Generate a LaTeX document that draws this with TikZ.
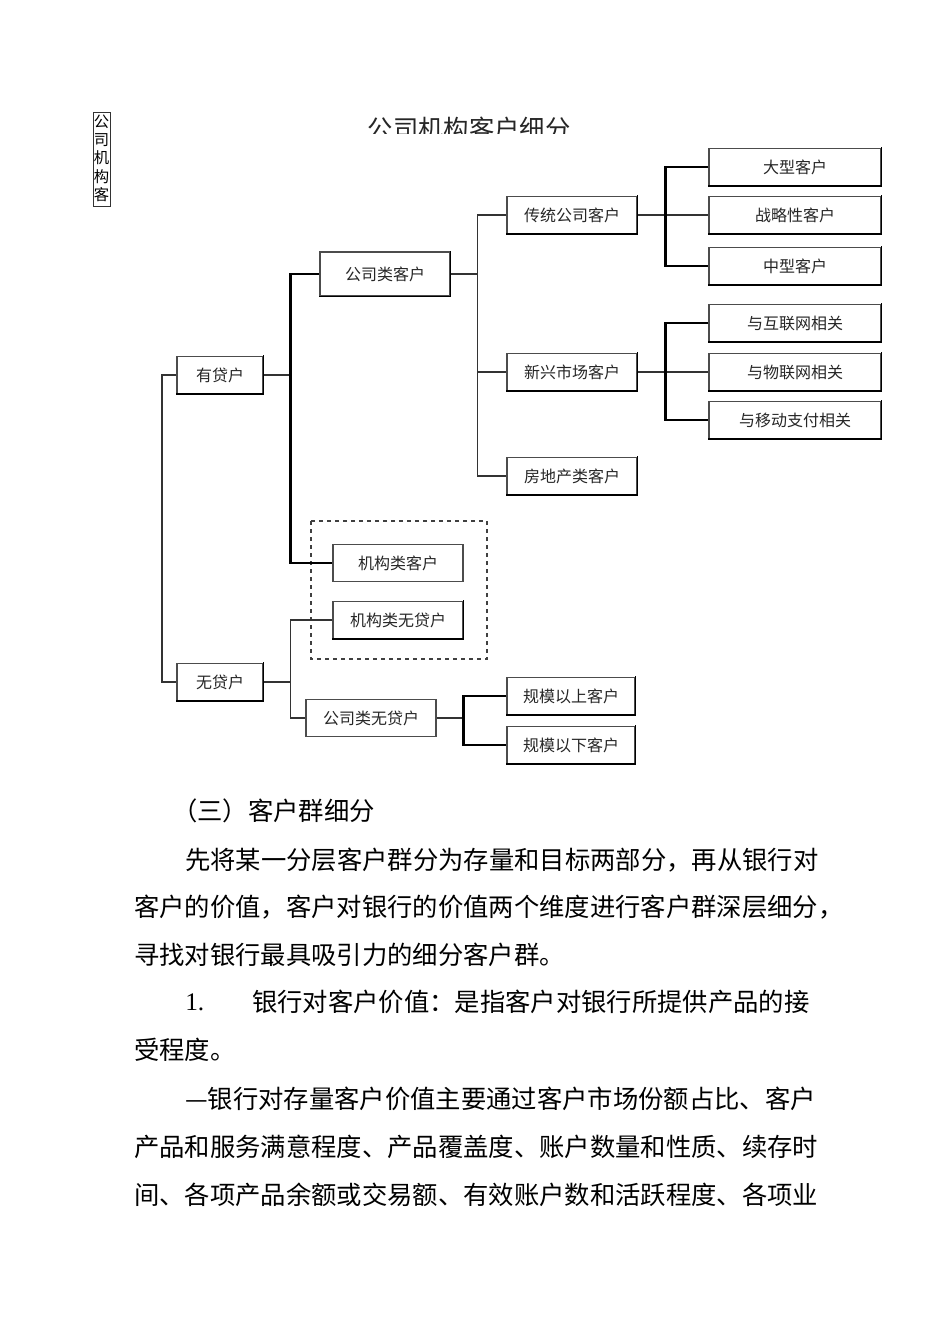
\documentclass[tikz,border=0pt]{standalone}
\usepackage{fontspec}
\newfontfamily\cjk{Noto Sans CJK SC}
\newfontfamily\latinserif{Liberation Serif}
\begin{document}
\begin{tikzpicture}[x=0.75pt,y=-0.75pt,
  box/.style={draw=black!70, line width=0.8pt, inner sep=0pt, minimum height=27.5pt,
    font=\cjk\fontsize{12}{14}\selectfont, text=black!85, fill=white},
  wA/.style={minimum width=64.5pt},
  wB/.style={minimum width=97.5pt},
  wC/.style={minimum width=129pt},
  link/.style={draw=black!80, line width=0.9pt},
  heavy/.style={draw=black, line width=1.6pt},
  shade/.style={draw=black, line width=1.2pt, line cap=rect},
  body/.style={anchor=west, inner sep=0pt, font=\cjk\fontsize{19}{22}\selectfont, text=black},
  vch/.style={inner sep=0pt, font=\cjk\fontsize{11.5}{12}\selectfont}
]
\useasboundingbox (0,0) rectangle (950,1344);

% vertical label
\draw[draw=black!80, line width=0.6pt] (93,112) rectangle (110,206);
\node[vch] (v1) at (101.5,122) {公};
\node[vch] (v2) at (101.5,140) {司};
\node[vch] (v3) at (101.5,158) {机};
\node[vch] (v4) at (101.5,177) {构};
\node[vch] (v5) at (101.5,195) {客};

% clipped title
\begin{scope}
\clip (300,108) rectangle (640,134);
\node[inner sep=0pt, font=\cjk\fontsize{19}{22}\selectfont, text=black!85] (title) at (469,129) {公司机构客户细分};
\end{scope}

% dashed frame
\draw[dashed, draw=black!75, line width=1pt] (311,521) rectangle (487,659);

% nodes
\node[box,wA] (yd) at (220,375) {有贷户};
\node[box,wA] (wd) at (220,682) {无贷户};
\node[box,wB,minimum height=33pt] (gs) at (385,274) {公司类客户};
\node[box,wB] (jg) at (398,563) {机构类客户};
\node[box,wB] (jgw) at (398,620) {机构类无贷户};
\node[box,wB] (gsw) at (371,718) {公司类无贷户};
\node[box,wB] (ct) at (572,215) {传统公司客户};
\node[box,wB] (xx) at (572,372) {新兴市场客户};
\node[box,wB] (fd) at (572,476) {房地产类客户};
\node[box,wC] (dx) at (795,167) {大型客户};
\node[box,wC] (zl) at (795,215) {战略性客户};
\node[box,wC] (zx) at (795,266) {中型客户};
\node[box,wC] (hl) at (795,323) {与互联网相关};
\node[box,wC] (wl) at (795,372) {与物联网相关};
\node[box,wC] (yz) at (795,420) {与移动支付相关};
\node[box,wB,minimum width=96pt] (gy) at (571,696) {规模以上客户};
\node[box,wB,minimum width=96pt] (gx) at (571,745) {规模以下客户};

% shading edges (right and bottom)
\foreach \n in {yd,wd,gs,jgw,ct,xx,fd,dx,zl,zx,hl,wl,yz,gy,gx}
  \draw[shade] (\n.north east) -- (\n.south east) -- (\n.south west);

% junction coordinates
\coordinate (j0) at (162,375);
\coordinate (j1) at (291,375);
\coordinate (j2) at (291,682);
\coordinate (j3) at (478,274);
\coordinate (j4) at (464,718);

% connectors
\draw[link] (yd.west) -- (j0) |- (wd.west);
\draw[link] (yd.east) -- (j1);
\draw[heavy] (gs.west) -- ++(-29,0) |- (jg.west);
\draw[link] (wd.east) -- (j2);
\draw[link] (jgw.west) -- ++(-42,0) |- (gsw.west);
\draw[link] (gs.east) -- (j3);
\draw[link] (ct.west) -- ++(-29,0) |- (fd.west);
\draw[link] (xx.west) -- ++(-29,0);
\draw[link] (ct.east) -- (zl.west);
\draw[heavy] (dx.west) -- ++(-43,0) |- (zx.west);
\draw[link] (xx.east) -- (wl.west);
\draw[heavy] (hl.west) -- ++(-43,0) |- (yz.west);
\draw[link] (gsw.east) -- (j4);
\draw[heavy] (gy.west) -- ++(-43,0) |- (gx.west);

% body text
\node[body] (t1) at (172,811) {（三）客户群细分};
\node[body] (t2) at (185,860) {先将某一分层客户群分为存量和目标两部分，再从银行对};
\node[body] (t3) at (134,907) {客户的价值，客户对银行的价值两个维度进行客户群深层细分，};
\node[body] (t4) at (134,955) {寻找对银行最具吸引力的细分客户群。};
\node[body, font=\latinserif\fontsize{19}{22}\selectfont] (t5a) at (185,1002) {1.};
\node[body] (t5) at (252,1002) {银行对客户价值：是指客户对银行所提供产品的接};
\node[body] (t6) at (134,1050) {受程度。};
\node[body] (t7) at (185,1099) {—银行对存量客户价值主要通过客户市场份额占比、客户};
\node[body] (t8) at (134,1147) {产品和服务满意程度、产品覆盖度、账户数量和性质、续存时};
\node[body] (t9) at (134,1195) {间、各项产品余额或交易额、有效账户数和活跃程度、各项业};
\end{tikzpicture}
\end{document}
